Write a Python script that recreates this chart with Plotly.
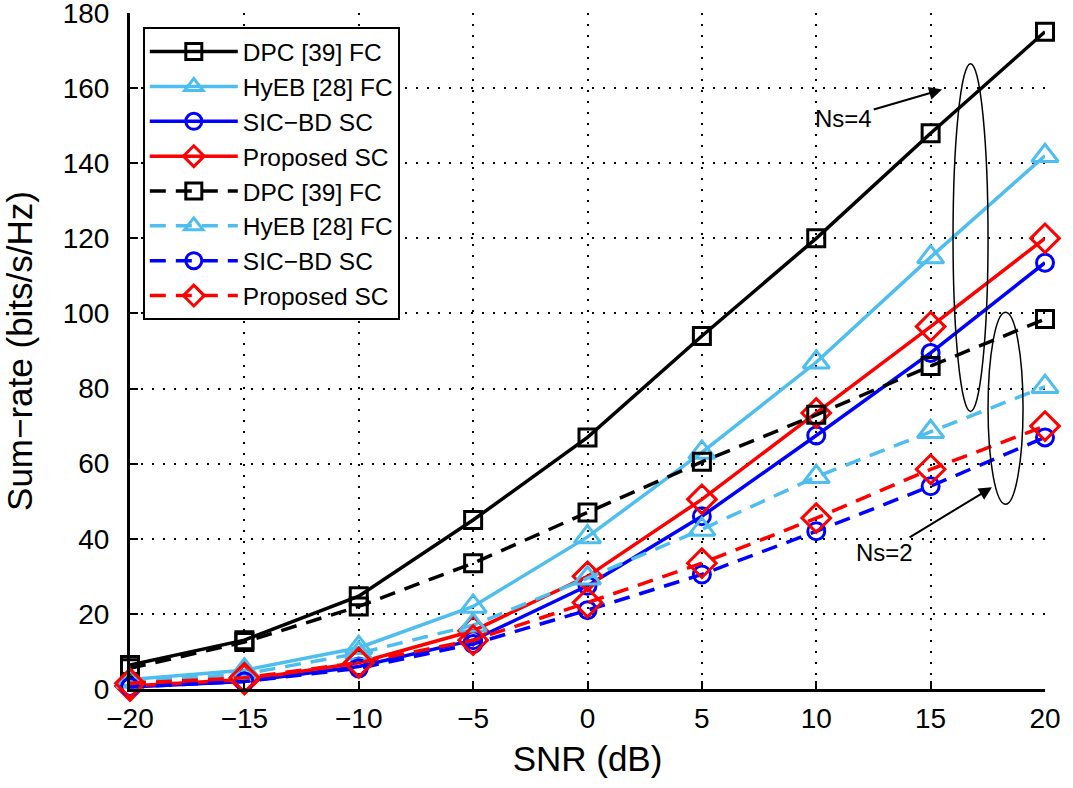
import plotly.graph_objects as go

# SNR grid (dB)
snr = [-20, -15, -10, -5, 0, 5, 10, 15, 20]

# Ns = 4 (solid)
dpc_ns4 = [6.4, 13, 24.7, 45, 67, 94, 120, 148, 175]
hyeb_ns4 = [2.5, 5, 11, 22, 40.5, 63, 87, 115, 142]
sicbd_ns4 = [0.5, 2, 6, 13, 27.5, 46, 67.5, 89.5, 113.5]
prop_ns4 = [0.8, 2.5, 7, 15.5, 30, 50.5, 73.5, 96.5, 120]

# Ns = 2 (dashed)
dpc_ns2 = [5.5, 12.5, 22, 33.5, 47, 60.5, 73, 86, 98.5]
hyeb_ns2 = [2, 4, 9.5, 17, 29.5, 42.5, 56.5, 68.5, 80.5]
sicbd_ns2 = [0.5, 2, 5.5, 12, 21, 30.5, 42, 54, 67]
prop_ns2 = [1.5, 3, 7, 13, 23, 33.5, 45.5, 58.5, 70]

names = ["DPC [39] FC", "HyEB [28] FC", "SIC\u2212BD SC", "Proposed SC"]
colors = ["#000000", "#4DBEEE", "#0000FF", "#FF0000"]
symbols = ["square-open", "triangle-up-open", "circle-open", "diamond-open"]
sizes = [17, 23, 17, 22]

fig = go.Figure()

for series, dash in [([dpc_ns4, hyeb_ns4, sicbd_ns4, prop_ns4], "solid"),
                     ([dpc_ns2, hyeb_ns2, sicbd_ns2, prop_ns2], "16px,10px")]:
    for y, name, c, s, sz in zip(series, names, colors, symbols, sizes):
        fig.add_trace(go.Scatter(
            x=snr, y=y, name=name, mode="lines+markers",
            line=dict(color=c, width=3.5, dash=dash),
            marker=dict(symbol=s, size=sz, color=c, line=dict(color=c, width=3)),
            cliponaxis=False,
        ))

# ellipses grouping the curves
fig.add_shape(type="circle", xref="x", yref="y", x0=15.98, x1=17.51, y0=73.9, y1=166.5,
              line=dict(color="black", width=1.5))
fig.add_shape(type="circle", xref="x", yref="y", x0=17.51, x1=19.04, y0=49.2, y1=100.3,
              line=dict(color="black", width=1.5))

fig.add_annotation(x=15.5, y=159.6, ax=11.2, ay=152, xref="x", yref="y", axref="x", ayref="y",
                   text="Ns=4", showarrow=True, arrowhead=2, arrowsize=1.3, arrowwidth=2,
                   arrowcolor="black", font=dict(size=24, color="black"), standoff=0)
fig.add_annotation(x=17.68, y=53.7, ax=13.0, ay=36.4, xref="x", yref="y", axref="x", ayref="y",
                   text="Ns=2", showarrow=True, arrowhead=2, arrowsize=1.3, arrowwidth=2,
                   arrowcolor="black", font=dict(size=24, color="black"), standoff=0)

fig.update_layout(
    width=1073, height=788,
    margin=dict(l=130, r=28, t=13, b=99),
    paper_bgcolor="white", plot_bgcolor="white",
    font=dict(family="Liberation Sans, Arial, sans-serif", color="black"),
    legend=dict(x=0.014, y=0.979, xanchor="left", yanchor="top",
                bgcolor="white", bordercolor="black", borderwidth=2,
                font=dict(size=24.5), itemwidth=88, tracegroupgap=0),
    xaxis=dict(
        range=[-20, 20], tickvals=snr, automargin=False,
        ticktext=["\u221220", "\u221215", "\u221210", "\u22125", "0", "5", "10", "15", "20"],
        tickfont=dict(size=28), ticklabelstandoff=2,
        title=dict(text="SNR (dB)", font=dict(size=35), standoff=14),
        showline=True, linecolor="black", linewidth=3, mirror=False,
        ticks="inside", ticklen=8, tickwidth=2, tickcolor="black",
        showgrid=True, gridcolor="black", gridwidth=1.5, griddash="2px,9px",
        zeroline=False, ticklabeloverflow="allow",
    ),
    yaxis=dict(
        range=[0, 180], tickvals=list(range(0, 181, 20)), automargin=False,
        tickfont=dict(size=28), ticklabeloverflow="allow", ticklabelstandoff=12,
        title=dict(text="Sum\u2212rate (bits/s/Hz)", font=dict(size=35), standoff=22),
        showline=True, linecolor="black", linewidth=3, mirror=False,
        ticks="inside", ticklen=8, tickwidth=2, tickcolor="black",
        showgrid=True, gridcolor="black", gridwidth=1.5, griddash="2px,9px",
        zeroline=False,
    ),
)

fig.write_html("out.html", config={"displayModeBar": False},
               post_script="document.body.style.margin='0';")
